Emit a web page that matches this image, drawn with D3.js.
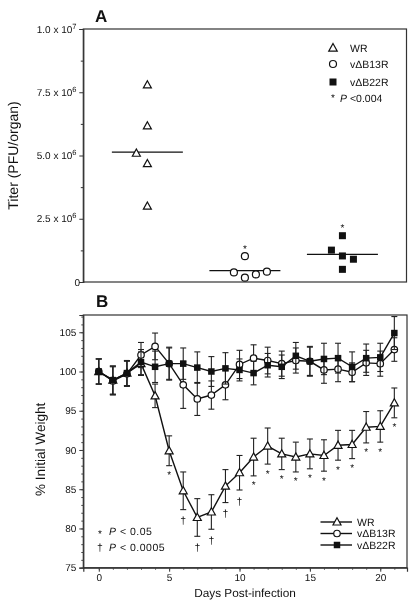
<!DOCTYPE html>
<html>
<head>
<meta charset="utf-8">
<script src="https://cdn.jsdelivr.net/npm/d3@7"></script>
<style>
  html, body { margin: 0; padding: 0; background: #fff; }
  svg { display: block; font-family: "Liberation Sans", Arial, Helvetica, sans-serif; will-change: transform; }
  text { text-rendering: geometricPrecision; }
</style>
</head>
<body>
<svg id="chart" width="416" height="603"></svg>
<script>
// ---------- Panel A data ----------
const groupsA = ["WR", "vΔB13R", "vΔB22R"];
const wrTiter = [7.79e6, 6.17e6, 5.09e6, 4.68e6, 3.0e6];
const wrJitter = [0, 0, -1, 0, 0];
const b13Titer = [1.02e6, 0.38e6, 0.17e6, 0.30e6, 0.41e6];
const b13Jitter = [0, -1, 0, 1, 2];
const b22Titer = [1.83e6, 1.26e6, 1.03e6, 0.90e6, 0.50e6];
const b22Jitter = [0, -1, 0, 1, 0];
const mediansA = [5.13e6, 0.45e6, 1.09e6];
const starGroupsA = ["vΔB13R", "vΔB22R"];
const yTicksA = [0, 2.5e6, 5e6, 7.5e6, 1e7];
const yTickLabelsA = [["0", ""], ["2.5 x 10", "6"], ["5.0 x 10", "6"], ["7.5 x 10", "6"], ["1.0 x 10", "7"]];
const yMinorA = [1.25e6, 3.75e6, 6.25e6, 8.75e6];

// ---------- Panel B data ----------
const days = [0,1,2,3,4,5,6,7,8,9,10,11,12,13,14,15,16,17,18,19,20,21];
const wrWeight  = [100, 98.9, 99.8, 101.0, 96.9, 89.9, 84.8, 81.4, 82.1, 85.4, 87.1, 89.1, 90.5, 89.5, 89.1, 89.5, 89.3, 90.6, 90.7, 92.9, 93.0, 96.0];
const wrErr     = [1.6, 1.8, 1.6, 1.5, 1.5, 1.9, 2.4, 2.4, 2.2, 2.1, 2.2, 2.4, 2.3, 2.0, 1.9, 1.9, 2.0, 1.9, 1.8, 2.0, 2.0, 1.9];
const b13Weight = [100, 98.8, 99.7, 102.1, 103.2, 101.0, 98.3, 96.5, 97.0, 98.3, 100.9, 101.7, 101.4, 101.0, 101.4, 101.3, 100.2, 100.3, 99.9, 101.1, 101.0, 102.8];
const b13Err    = [1.6, 1.8, 1.6, 1.6, 1.7, 2.0, 3.0, 2.1, 1.8, 1.9, 1.8, 1.7, 1.7, 1.6, 1.6, 1.8, 1.7, 1.6, 1.2, 1.6, 1.6, 1.5];
const b22Weight = [100, 98.9, 99.8, 101.2, 100.6, 101.0, 101.0, 100.5, 100.0, 100.4, 100.2, 99.8, 100.8, 100.6, 102.0, 101.3, 101.6, 101.7, 100.6, 101.7, 101.8, 104.9];
const b22Err    = [1.6, 1.8, 1.6, 1.6, 2.0, 2.1, 2.0, 2.0, 1.9, 2.0, 1.4, 1.5, 1.5, 1.5, 1.7, 1.9, 2.0, 1.9, 1.9, 1.8, 1.8, 2.1];
const starDays   = [5, 11, 12, 13, 14, 15, 16, 17, 18, 19, 20, 21];
const daggerDays = [6, 7, 8, 9, 10];
const yTicksB = [75, 80, 85, 90, 95, 100, 105];
const xTicksB = [0, 5, 10, 15, 20];
const seriesNamesB = ["WR", "vΔB13R", "vΔB22R"];

// ---------- drawing ----------
const svg = d3.select("#chart");
svg.append("rect").attr("width", 416).attr("height", 603).attr("fill", "#fff");
const FONT = '"Liberation Sans", Arial, Helvetica, sans-serif';
const INK = "#111";

function triPath(cx, cy, w) {
  const h = w * 0.9;
  return `M${cx},${cy - h * 0.58}L${cx + w / 2},${cy + h * 0.42}L${cx - w / 2},${cy + h * 0.42}Z`;
}
function drawMarker(g, kind, cx, cy, s) {
  if (kind === "tri") {
    g.append("path").attr("d", triPath(cx, cy, s)).attr("fill", "#fff").attr("stroke", INK).attr("stroke-width", 1.2);
  } else if (kind === "circ") {
    g.append("circle").attr("cx", cx).attr("cy", cy).attr("r", s / 2).attr("fill", "#fff").attr("stroke", INK).attr("stroke-width", 1.2);
  } else {
    g.append("rect").attr("x", cx - s / 2).attr("y", cy - s / 2).attr("width", s).attr("height", s).attr("fill", INK);
  }
}

// ===== Panel A =====
const A = { left: 83.3, right: 406.5, top: 29, bottom: 282 };
const xA = d3.scalePoint().domain(groupsA).range([A.left, A.right]).padding(0.657);
const yA = d3.scaleLinear().domain([0, 1e7]).range([A.bottom, A.top]);
const gA = svg.append("g");

gA.append("rect").attr("x", A.left).attr("y", A.top).attr("width", A.right - A.left).attr("height", A.bottom - A.top)
  .attr("fill", "none").attr("stroke", "#333").attr("stroke-width", 1.2);

const axA = gA.append("g").attr("transform", `translate(${A.left},0)`)
  .call(d3.axisLeft(yA).tickValues(yTicksA).tickSize(4).tickFormat(""));
axA.select(".domain").attr("stroke", "#333").attr("stroke-width", 1.2);
axA.selectAll(".tick line").attr("stroke", "#333");
const axAm = gA.append("g").attr("transform", `translate(${A.left},0)`)
  .call(d3.axisLeft(yA).tickValues(yMinorA).tickSize(2.5).tickFormat(""));
axAm.select(".domain").remove();
axAm.selectAll(".tick line").attr("stroke", "#333");

yTicksA.forEach((v, i) => {
  const lab = yTickLabelsA[i];
  const t = gA.append("text").attr("x", lab[1] ? 76.5 : 80).attr("y", yA(v) + 3.5)
    .attr("text-anchor", "end").attr("font-size", 10).attr("fill", INK);
  t.append("tspan").text(lab[0]);
  if (lab[1]) t.append("tspan").attr("dy", -4).attr("font-size", 7.5).text(lab[1]);
});

gA.append("text").attr("transform", `translate(18,${(A.top + A.bottom) / 2}) rotate(-90)`)
  .attr("text-anchor", "middle").attr("font-size", 14).attr("fill", INK).text("Titer (PFU/organ)");

gA.append("text").attr("x", 95).attr("y", 22).attr("font-size", 17).attr("font-weight", "bold").attr("fill", INK).text("A");

mediansA.forEach((m, i) => {
  const cx = xA(groupsA[i]);
  gA.append("line").attr("x1", cx - 35.5).attr("x2", cx + 35.5).attr("y1", yA(m)).attr("y2", yA(m))
    .attr("stroke", INK).attr("stroke-width", 1.2);
});

const JIT = 11;
const dotsA = [
  { g: groupsA[0], vals: wrTiter, jit: wrJitter, kind: "tri", size: 8 },
  { g: groupsA[1], vals: b13Titer, jit: b13Jitter, kind: "circ", size: 7 },
  { g: groupsA[2], vals: b22Titer, jit: b22Jitter, kind: "sq", size: 7 }
];
dotsA.forEach(s => {
  s.vals.forEach((v, i) => drawMarker(gA, s.kind, xA(s.g) + s.jit[i] * JIT, yA(v), s.size));
});
starGroupsA.forEach(gname => {
  const s = dotsA.find(d => d.g === gname);
  const mx = d3.max(s.vals);
  gA.append("text").attr("x", xA(gname)).attr("y", yA(mx) - 4.5).attr("text-anchor", "middle")
    .attr("font-size", 10).attr("fill", INK).text("*");
});

const legA = gA.append("g");
const legKinds = ["tri", "circ", "sq"];
const legYA = [48, 64, 82];
groupsA.forEach((name, i) => {
  drawMarker(legA, legKinds[i], 333, legYA[i], i === 0 ? 8.5 : 7);
  legA.append("text").attr("x", 350).attr("y", legYA[i] + 3.8).attr("font-size", 10.5).attr("fill", INK).text(name);
});
legA.append("text").attr("x", 333).attr("y", 100.5).attr("text-anchor", "middle").attr("font-size", 10).attr("fill", INK).text("*");
const pA = legA.append("text").attr("x", 340).attr("y", 102).attr("font-size", 10.5).attr("fill", INK);
pA.append("tspan").attr("font-style", "italic").text("P");
pA.append("tspan").text(" <0.004");

// ===== Panel B =====
const B = { left: 83.3, right: 407, top: 315, bottom: 567.7 };
const xB = d3.scaleLinear().domain([-1.1, 21.9]).range([B.left, B.right]);
const yB = d3.scaleLinear().domain([75, 107.2]).range([B.bottom, B.top]);
const gB = svg.append("g");

gB.append("rect").attr("x", B.left).attr("y", B.top).attr("width", B.right - B.left).attr("height", B.bottom - B.top)
  .attr("fill", "none").attr("stroke", "#333").attr("stroke-width", 1.2);

const axBy = gB.append("g").attr("transform", `translate(${B.left},0)`)
  .call(d3.axisLeft(yB).tickValues(yTicksB).tickSize(4).tickPadding(3));
axBy.select(".domain").attr("stroke", "#333").attr("stroke-width", 1.2);
axBy.selectAll(".tick line").attr("stroke", "#333");
axBy.selectAll(".tick text").attr("font-size", 10).attr("font-family", FONT).attr("fill", INK);
const axBym = gB.append("g").attr("transform", `translate(${B.left},0)`)
  .call(d3.axisLeft(yB).ticks(32).tickSize(2).tickFormat(""));
axBym.select(".domain").remove();
axBym.selectAll(".tick line").attr("stroke", "#444");

const axBx = gB.append("g").attr("transform", `translate(0,${B.bottom})`)
  .call(d3.axisBottom(xB).tickValues(xTicksB).tickSize(4).tickPadding(2.5));
axBx.select(".domain").attr("stroke", "#333").attr("stroke-width", 1.2);
axBx.selectAll(".tick line").attr("stroke", "#333");
axBx.selectAll(".tick text").attr("font-size", 10).attr("font-family", FONT).attr("fill", INK);
const axBxm = gB.append("g").attr("transform", `translate(0,${B.bottom})`)
  .call(d3.axisBottom(xB).tickValues(days).tickSize(2).tickFormat(""));
axBxm.select(".domain").remove();
axBxm.selectAll(".tick line").attr("stroke", "#444");

gB.append("text").attr("transform", `translate(45,${(B.top + B.bottom) / 2 + 8}) rotate(-90)`)
  .attr("text-anchor", "middle").attr("font-size", 13.6).attr("fill", INK).text("% Initial Weight");
gB.append("text").attr("x", 245).attr("y", 596.5).attr("text-anchor", "middle").attr("font-size", 11.8).attr("fill", INK).text("Days Post-infection");
gB.append("text").attr("x", 96).attr("y", 307).attr("font-size", 17).attr("font-weight", "bold").attr("fill", INK).text("B");

const seriesB = [
  { name: seriesNamesB[0], vals: wrWeight, err: wrErr, kind: "tri", size: 8 },
  { name: seriesNamesB[1], vals: b13Weight, err: b13Err, kind: "circ", size: 6.5 },
  { name: seriesNamesB[2], vals: b22Weight, err: b22Err, kind: "sq", size: 6.5 }
];
const line = d3.line().x((d, i) => xB(days[i])).y(d => yB(d));
const CAP = 3;
seriesB.forEach(s => {
  const g = gB.append("g");
  g.append("path").attr("d", line(s.vals)).attr("fill", "none").attr("stroke", INK).attr("stroke-width", 1.4);
  s.vals.forEach((v, i) => {
    const x = xB(days[i]);
    const y1 = yB(v + s.err[i]), y0 = yB(v - s.err[i]);
    g.append("line").attr("x1", x).attr("x2", x).attr("y1", y1).attr("y2", y0).attr("stroke", "#222").attr("stroke-width", 1.1);
    g.append("line").attr("x1", x - CAP).attr("x2", x + CAP).attr("y1", y1).attr("y2", y1).attr("stroke", "#222").attr("stroke-width", 1.1);
    g.append("line").attr("x1", x - CAP).attr("x2", x + CAP).attr("y1", y0).attr("y2", y0).attr("stroke", "#222").attr("stroke-width", 1.1);
  });
  s.vals.forEach((v, i) => drawMarker(g, s.kind, xB(days[i]), yB(v), s.size));
});

starDays.forEach(d => {
  const i = days.indexOf(d);
  gB.append("text").attr("x", xB(d)).attr("y", yB(wrWeight[i] - wrErr[i]) + 12.5).attr("text-anchor", "middle")
    .attr("font-size", 10).attr("fill", INK).text("*");
});
daggerDays.forEach(d => {
  const i = days.indexOf(d);
  gB.append("text").attr("x", xB(d)).attr("y", yB(wrWeight[i] - wrErr[i]) + 14.5).attr("text-anchor", "middle")
    .attr("font-size", 10.5).attr("fill", INK).text("†");
});

const legYB = [522, 533.5, 545];
seriesB.forEach((s, i) => {
  gB.append("line").attr("x1", 320.5).attr("x2", 352).attr("y1", legYB[i]).attr("y2", legYB[i]).attr("stroke", INK).attr("stroke-width", 1.4);
  drawMarker(gB, s.kind, 337, legYB[i], s.size);
  gB.append("text").attr("x", 357).attr("y", legYB[i] + 3.6).attr("font-size", 10.5).attr("fill", INK).text(s.name);
});

gB.append("text").attr("x", 100).attr("y", 537).attr("text-anchor", "middle").attr("font-size", 10).attr("fill", INK).text("*");
const p1 = gB.append("text").attr("x", 109).attr("y", 535).attr("font-size", 10.5).attr("fill", INK).attr("letter-spacing", 0.5);
p1.append("tspan").attr("font-style", "italic").text("P");
p1.append("tspan").text(" < 0.05");
gB.append("text").attr("x", 100).attr("y", 550.5).attr("text-anchor", "middle").attr("font-size", 10.5).attr("fill", INK).text("†");
const p2 = gB.append("text").attr("x", 109).attr("y", 550.5).attr("font-size", 10.5).attr("fill", INK).attr("letter-spacing", 0.5);
p2.append("tspan").attr("font-style", "italic").text("P");
p2.append("tspan").text(" < 0.0005");
</script>
</body>
</html>
